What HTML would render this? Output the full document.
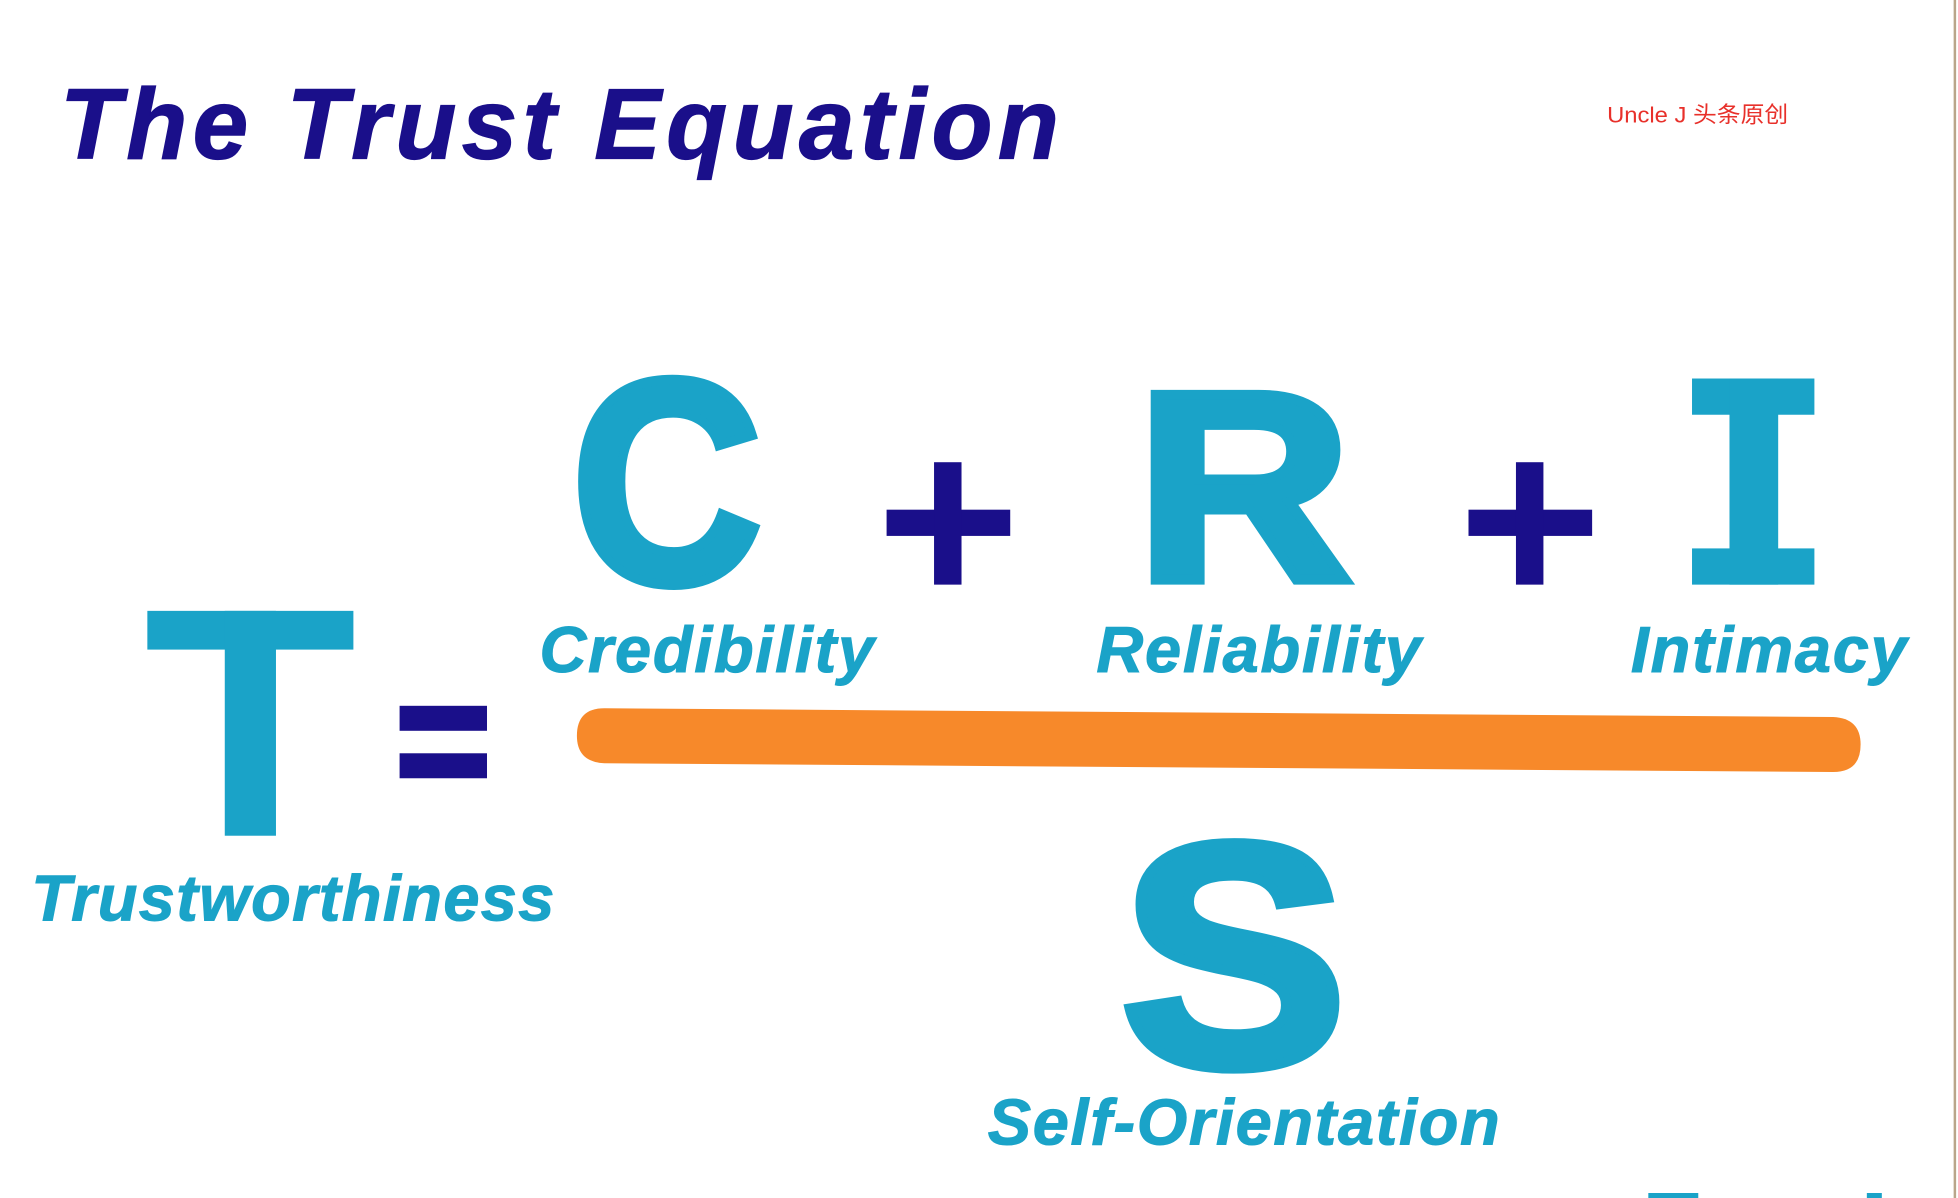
<!DOCTYPE html>
<html><head><meta charset="utf-8"><style>
html,body{margin:0;padding:0;background:#fff;}
svg{display:block;}
</style></head><body>
<svg width="1958" height="1198" viewBox="0 0 1568 959" preserveAspectRatio="none" xmlns="http://www.w3.org/2000/svg">
<rect width="1568" height="959" fill="#fff"/>
<line x1="1565.5" y1="0" x2="1565.5" y2="959" stroke="#b9a58a" stroke-width="2"/>
<text x="48" y="127" font-family="Liberation Sans, sans-serif" font-weight="bold" font-style="italic" font-size="80" fill="#1a0f8a" stroke="#1a0f8a" stroke-width="1" textLength="800" lengthAdjust="spacing">The Trust Equation</text>
<text x="1287" y="98" font-family="Liberation Sans, 'Noto Sans CJK SC', sans-serif" font-size="18" fill="#e8302a" textLength="145" lengthAdjust="spacingAndGlyphs">Uncle J 头条原创</text>
<g fill="#1aa3c8" stroke="#1aa3c8" stroke-width="8" stroke-linejoin="miter" font-family="Liberation Sans, sans-serif" font-weight="bold">
<text x="458" y="466" font-size="232" textLength="152" lengthAdjust="spacingAndGlyphs">C</text>
<text x="910" y="464" font-size="215" textLength="172" lengthAdjust="spacingAndGlyphs">R</text>
<text x="897" y="853" font-size="255" textLength="182" lengthAdjust="spacingAndGlyphs">S</text>
</g>
<g fill="#1aa3c8">
<rect x="1355" y="303" width="98" height="29"/>
<rect x="1385" y="303" width="39" height="165"/>
<rect x="1355" y="439" width="98" height="29"/>
<rect x="118" y="489" width="165" height="31"/>
<rect x="180" y="489" width="41" height="180"/>
</g>
<g fill="#1a0f8a">
<rect x="710" y="408" width="99" height="21"/>
<rect x="748" y="370" width="22" height="98"/>
<rect x="1176" y="408" width="99" height="21"/>
<rect x="1214" y="370" width="22" height="98"/>
<rect x="320" y="565" width="70" height="20"/>
<rect x="320" y="603" width="70" height="20"/>
</g>
<path d="M484 567 L1468 574 Q1490 575 1490 596 Q1490 618 1468 618 L484 611 Q462 610 462 589 Q462 567 484 567 Z" fill="#f7892a"/>
<g font-family="Liberation Sans, sans-serif" font-weight="bold" font-style="italic" font-size="52" fill="#1aa3c8" stroke="#1aa3c8" stroke-width="0.8">
<text x="432" y="538" textLength="268" lengthAdjust="spacing">Credibility</text>
<text x="878" y="538" textLength="260" lengthAdjust="spacing">Reliability</text>
<text x="1306" y="538" textLength="221" lengthAdjust="spacing">Intimacy</text>
<text x="25" y="737" textLength="419" lengthAdjust="spacing">Trustworthiness</text>
<text x="791" y="916" textLength="410" lengthAdjust="spacing">Self-Orientation</text>
</g>
<rect x="1320" y="955" width="40" height="4" fill="#1aa3c8"/>
<rect x="1495" y="955" width="12" height="4" fill="#1aa3c8"/>
</svg>
</body></html>
